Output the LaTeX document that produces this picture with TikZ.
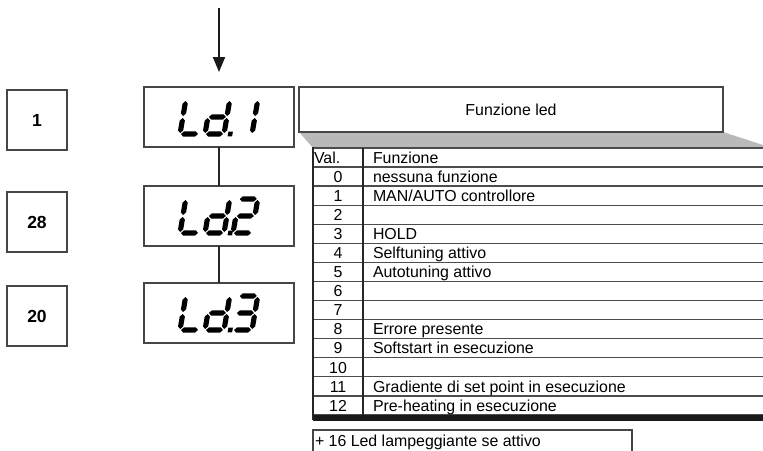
\documentclass[tikz,border=0pt]{standalone}
\usepackage{fontspec}
\setmainfont{Liberation Sans}
\usetikzlibrary{arrows.meta}
\definecolor{shadowgray}{RGB}{185,185,185}
\definecolor{boxline}{RGB}{70,70,70}
\newcommand{\hsg}[3]{\fill (#1,#3) -- (#1+2.6,#3-2.6) -- (#2-2.6,#3-2.6) -- (#2,#3) -- (#2-2.6,#3+2.6) -- (#1+2.6,#3+2.6) -- cycle;}
\newcommand{\vsg}[3]{\fill (#1,#2) -- (#1+2.6,#2+2.6) -- (#1+2.6,#3-2.6) -- (#1,#3) -- (#1-2.6,#3-2.6) -- (#1-2.6,#2+2.6) -- cycle;}
\newcommand{\sgA}{\hsg{1}{18}{-34}}
\newcommand{\sgB}{\vsg{19}{-33}{-18}}
\newcommand{\sgC}{\vsg{19}{-16}{-1}}
\newcommand{\sgD}{\hsg{1}{18}{0}}
\newcommand{\sgE}{\vsg{0}{-16}{-1}}
\newcommand{\sgF}{\vsg{0}{-33}{-18}}
\newcommand{\sgG}{\hsg{1}{18}{-17}}
\newcommand{\digL}{\sgE\sgF\sgD}
\newcommand{\digd}{\sgB\sgC\sgD\sgE\sgG}
\newcommand{\digOne}{\sgB\sgC}
\newcommand{\digTwo}{\sgA\sgB\sgG\sgE\sgD}
\newcommand{\digThree}{\sgA\sgB\sgG\sgC\sgD}
\newcommand{\lddot}{\fill (23,-2.4) rectangle (27.5,2.4);}
% draws "Ld.<digit>" inside a display box whose centre is (#1,#2)
\newcommand{\ldtext}[3]{%
  \begin{scope}[shift={(#1-39,#2+17)},xslant=0.17]\digL\end{scope}
  \begin{scope}[shift={(#1-14,#2+17)},xslant=0.17]\digd\lddot\end{scope}
  \begin{scope}[shift={(#1+14,#2+17)},xslant=0.17]#3\end{scope}}
\begin{document}
\begin{tikzpicture}[x=1pt,y=-1pt,
  every node/.style={inner sep=0pt,outer sep=0pt},
  ldbox/.style={draw=boxline,line width=1.3pt,fill=white,minimum width=150pt,minimum height=60pt},
  numbox/.style={draw=boxline,line width=1.3pt,minimum width=60pt,minimum height=60pt,font=\fontsize{17.5}{17.5}\selectfont\bfseries},
  titlebox/.style={draw=boxline,line width=1.2pt,fill=white,minimum width=424pt,minimum height=45pt,font=\fontsize{15.9}{15.9}\selectfont},
  conn/.style={line width=2pt,black!85},
  arrowline/.style={line width=2pt,black!90,-{Triangle[length=15pt,width=12pt]}},
  rowline/.style={line width=1.3pt,black!70},
  tab/.style={font=\fontsize{15.9}{15.9}\selectfont,anchor=base west},
  tabnum/.style={font=\fontsize{15.9}{15.9}\selectfont,anchor=base}]
\useasboundingbox (0,0) rectangle (763,450);
% left value boxes
\node[numbox] (n1) at (37,120) {1};
\node[numbox] (n2) at (37,222) {28};
\node[numbox] (n3) at (37,316) {20};
% display boxes
\node[ldbox] (ld1) at (219,117) {};
\node[ldbox] (ld2) at (219,216) {};
\node[ldbox] (ld3) at (219,313) {};
\ldtext{219}{117}{\digOne}
\ldtext{219}{216}{\digTwo}
\ldtext{219}{313}{\digThree}
\coordinate (src) at (219,8);
\draw[arrowline] (src) -- ([yshift=15pt]ld1.north);
\draw[conn] (ld1.south) -- (ld2.north);
\draw[conn] (ld2.south) -- (ld3.north);
% shadow and title
\fill[shadowgray] (299,132) -- (723,132) -- (763,145) -- (763,148) -- (313,148) -- cycle;
\node[titlebox] (title) at (511,109.5) {Funzione led};
% table
\foreach \k in {0,...,14} \draw[rowline] (313,{148+19.07*\k}) -- (763,{148+19.07*\k});
\fill[black!90] (313,415) rectangle (763,420.5);
\draw[line width=1.5pt,black!85] (313,147.3) -- (313,420);
\draw[line width=1.5pt,black!85] (363,148) -- (363,415);
\node[tab] (h1) at (314,{148+19.07*0.5+5.7}) {Val.};
\node[tab] (h2) at (373,{148+19.07*0.5+5.7}) {Funzione};
\foreach \k/\lab in {0/v0,1/v1,2/v2,3/v3,4/v4,5/v5,6/v6,7/v7,8/v8,9/v9,10/v10,11/v11,12/v12}
  \node[tabnum] (\lab) at (338,{148+19.07*(\k+1.5)+5.7}) {\k};
\node[tab] (f0) at (373,{148+19.07*1.5+5.7}) {nessuna funzione};
\node[tab] (f1) at (373,{148+19.07*2.5+5.7}) {MAN/AUTO controllore};
\node[tab] (f3) at (373,{148+19.07*4.5+5.7}) {HOLD};
\node[tab] (f4) at (373,{148+19.07*5.5+5.7}) {Selftuning attivo};
\node[tab] (f5) at (373,{148+19.07*6.5+5.7}) {Autotuning attivo};
\node[tab] (f8) at (373,{148+19.07*9.5+5.7}) {Errore presente};
\node[tab] (f9) at (373,{148+19.07*10.5+5.7}) {Softstart in esecuzione};
\node[tab] (f11) at (373,{148+19.07*12.5+5.7}) {Gradiente di set point in esecuzione};
\node[tab] (f12) at (373,{148+19.07*13.5+5.7}) {Pre-heating in esecuzione};
% note box
\draw[line width=1.2pt,boxline] (313,455) -- (313,430) -- (632,430) -- (632,455);
\node[tab] (note) at (315,446) {+ 16 Led lampeggiante se attivo};
\end{tikzpicture}
\end{document}
